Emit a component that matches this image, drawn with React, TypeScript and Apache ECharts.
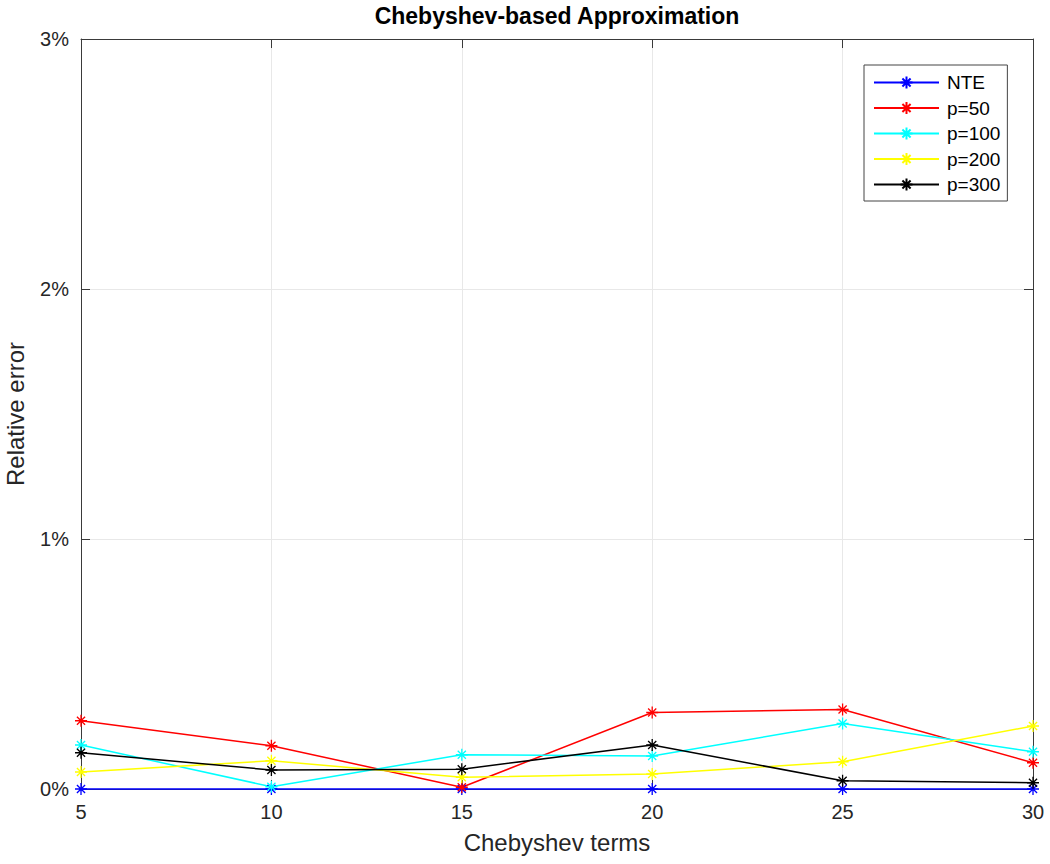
import React, { useEffect, useRef } from 'react';
import * as echarts from 'echarts';

const terms = [5, 10, 15, 20, 25, 30];
const nte = [0, 0, 0, 0, 0, 0];
const p50 = [0.273, 0.173, 0.007, 0.306, 0.318, 0.105];
const p100 = [0.176, 0.009, 0.137, 0.132, 0.262, 0.149];
const p200 = [0.068, 0.113, 0.047, 0.06, 0.109, 0.252];
const p300 = [0.145, 0.076, 0.079, 0.176, 0.033, 0.025];
const seriesNames = ['NTE', 'p=50', 'p=100', 'p=200', 'p=300'];
const seriesValues = [nte, p50, p100, p200, p300];
const seriesColors = ['#0000ff', '#ff0000', '#00ffff', '#ffff00', '#000000'];
const xMin = 5;
const xMax = 30;
const xStep = 5;
const yMin = 0;
const yMax = 3;
const yStep = 1;

const FONT = '"Liberation Sans", Arial, Helvetica, sans-serif';
const ASTERISK = 'path://M5,0 L5,10 M0,5 L10,5 M1.6,1.6 L8.4,8.4 M1.6,8.4 L8.4,1.6';
const AXIS_COLOR = '#3a3a3a';
const TEXT_COLOR = '#262626';

export default function App() {
  const ref = useRef<HTMLDivElement>(null);
  useEffect(() => {
    if (!ref.current) return;
    const chart = echarts.init(ref.current, undefined, { renderer: 'svg' });
    const tickCommon = { show: true, inside: true, length: 9, lineStyle: { color: AXIS_COLOR, width: 1 } };
    const lineCommon = { show: true, onZero: false, lineStyle: { color: AXIS_COLOR, width: 1 } };
    chart.setOption({
      animation: false,
      backgroundColor: '#ffffff',
      title: {
        text: 'Chebyshev-based Approximation',
        left: 557,
        top: 4,
        padding: 0,
        textAlign: 'center',
        textStyle: { fontFamily: FONT, fontSize: 23, fontWeight: 'bold', color: '#000000' },
      },
      legend: {
        left: 864,
        top: 65,
        orient: 'vertical',
        padding: [8, 7, 7, 9],
        itemGap: 6.5,
        itemWidth: 65,
        itemHeight: 15,
        borderColor: '#444444',
        borderWidth: 1,
        backgroundColor: '#ffffff',
        data: seriesNames,
        textStyle: { fontFamily: FONT, fontSize: 19, color: '#000000', lineHeight: 19, padding: [0, 0, 0, 3] },
      },
      grid: { left: 81, right: 17, top: 39, bottom: 75, containLabel: false, outerBoundsMode: 'none' },
      xAxis: [
        {
          type: 'value',
          min: xMin,
          max: xMax,
          interval: xStep,
          position: 'bottom',
          name: 'Chebyshev terms',
          nameLocation: 'middle',
          nameGap: 41,
          nameTextStyle: { fontFamily: FONT, fontSize: 24, color: TEXT_COLOR },
          axisLine: lineCommon,
          axisTick: tickCommon,
          axisLabel: { fontFamily: FONT, fontSize: 20, color: TEXT_COLOR, margin: 13 },
          splitLine: { show: true, lineStyle: { color: '#e8e8e8', width: 1 } },
        },
        {
          type: 'value',
          min: xMin,
          max: xMax,
          interval: xStep,
          position: 'top',
          axisLine: lineCommon,
          axisTick: tickCommon,
          axisLabel: { show: false },
          splitLine: { show: false },
        },
      ],
      yAxis: [
        {
          type: 'value',
          min: yMin,
          max: yMax,
          interval: yStep,
          position: 'left',
          name: 'Relative error',
          nameLocation: 'middle',
          nameGap: 54,
          nameTextStyle: { fontFamily: FONT, fontSize: 24, color: TEXT_COLOR },
          axisLine: lineCommon,
          axisTick: tickCommon,
          axisLabel: { fontFamily: FONT, fontSize: 20, color: TEXT_COLOR, margin: 12, formatter: '{value}%' },
          splitLine: { show: true, lineStyle: { color: '#e8e8e8', width: 1 } },
        },
        {
          type: 'value',
          min: yMin,
          max: yMax,
          interval: yStep,
          position: 'right',
          axisLine: lineCommon,
          axisTick: tickCommon,
          axisLabel: { show: false },
          splitLine: { show: false },
        },
      ],
      series: seriesNames.map((name, i) => ({
        name,
        type: 'line',
        xAxisIndex: 0,
        yAxisIndex: 0,
        data: terms.map((t, j) => [t, seriesValues[i][j]]),
        symbol: ASTERISK,
        symbolSize: 12,
        showSymbol: true,
        clip: false,
        lineStyle: { color: seriesColors[i], width: 1.5 },
        itemStyle: { color: seriesColors[i], borderColor: seriesColors[i], borderWidth: 1.3 },
        emphasis: { disabled: true },
      })),
    });
    return () => chart.dispose();
  }, []);
  return <div ref={ref} style={{ position: 'absolute', left: 0, top: 0, width: 1050, height: 864 }} />;
}
